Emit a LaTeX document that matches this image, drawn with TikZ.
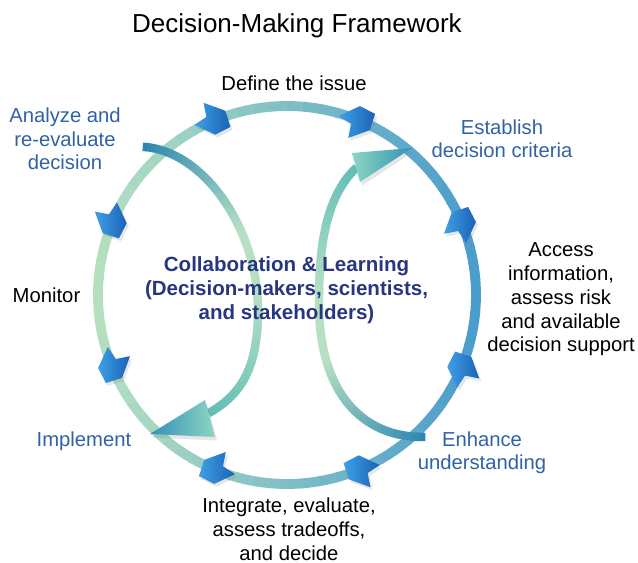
\documentclass[tikz,border=0pt]{standalone}
\usepackage{fontspec}
\setmainfont{Liberation Sans}
\usetikzlibrary{decorations.markings,shadows}

\definecolor{ringblue}{HTML}{4A9CCC}
\definecolor{ringgreen}{HTML}{B4E0C0}
\definecolor{tipdark}{HTML}{1A62B6}
\definecolor{tiplight}{HTML}{3FA0E6}
\definecolor{loopteal}{HTML}{2D86B0}
\definecolor{loopgreen}{HTML}{B6E0C4}
\definecolor{loopmint}{HTML}{62BEB8}
\definecolor{headtip}{HTML}{3490B8}
\definecolor{headbase}{HTML}{8CD6C2}
\definecolor{phaseblue}{HTML}{2F62A6}
\definecolor{hubnavy}{HTML}{28357F}

\tikzset{
  phase/.style={align=center,inner sep=0pt,anchor=base,font=\fontsize{14.4}{17}\selectfont},
  phaseb/.style={phase,text=phaseblue},
  loopline/.style={postaction={decorate},decoration={markings,
    mark=between positions 0 and 1 step 2.5pt with {
      \pgfmathsetmacro\loopt{\pgfkeysvalueof{/pgf/decoration/mark info/distance from start}/\pgfdecoratedpathlength}
      \pgfmathtruncatemacro\mixa{max(0,100*(1-\loopt/0.4))}
      \pgfmathtruncatemacro\mixb{100-max(0,100*(\loopt-0.6)/0.4)}
      \draw[line width=6pt,color=loopteal!\mixa!loopgreen!\mixb!loopmint] (-1.6pt,0) -- (1.6pt,0);
    }}},
  ringtip/.style={left color=tiplight,right color=tipdark,
    drop shadow={opacity=0.2,shadow xshift=1.5pt,shadow yshift=-2pt}},
  bighead/.style={drop shadow={opacity=0.2,shadow xshift=1.5pt,shadow yshift=-2.5pt}}
}

\begin{document}
\begin{tikzpicture}[x=0.025cm,y=-0.025cm]
  \useasboundingbox (0,0) rectangle (638,563);
  \coordinate (hub) at (287,295);

  \foreach \a in {0,5,...,355}{
    \pgfmathtruncatemacro\p{50+50*cos(\a+2.5)}
    \draw[line width=7pt,ringblue!\p!ringgreen] ([shift={(\a:189)}]hub) arc[start angle=\a,end angle=\a+5.5,radius=189];
  }

  \coordinate (loopAstart) at (145,147);
  \coordinate (loopAmid) at (258,310);
  \coordinate (loopAend) at (209,413);
  \coordinate (loopBstart) at (423,437);
  \coordinate (loopBmid) at (319,300);
  \coordinate (loopBend) at (356,168);

  \path[loopline] (loopAstart) .. controls (205,152) and (258,230) .. (loopAmid)
    .. controls (258,370) and (240,395) .. (loopAend);
  \path[loopline] (loopBstart) .. controls (360,437) and (318,390) .. (loopBmid)
    .. controls (319,240) and (328,195) .. (loopBend);

  \shade[bighead,left color=headtip,right color=headbase] (150,434) -- (205,400) -- (215,437) -- cycle;
  \shade[bighead,left color=headbase,right color=headtip] (412,148) -- (352,153) -- (360,182) -- cycle;

  \foreach \a in {22.5,67.5,...,337.5}
    \shade[ringtip,shift={(hub)},shift={(\a:189)},rotate=\a+90]
      (17,0) -- (6,13) -- (-17,12) -- (-9,0) -- (-17,-12) -- (6,-13) -- cycle;

  \node[phase,font=\fontsize{18.5}{22}\selectfont] (title) at (297,33) {Decision-Making Framework};
  \node[phase] (define) at (294,91) {Define the issue};
  \node[phaseb] (criteria) at (502,158) {Establish\\decision criteria};
  \node[phase] (access) at (561,352) {Access\\information,\\assess risk\\and available\\decision support};
  \node[phaseb] (enhance) at (482,470) {Enhance\\understanding};
  \node[phase] (integrate) at (289,560) {Integrate, evaluate,\\assess tradeoffs,\\and decide};
  \node[phaseb] (implement) at (84,447) {Implement};
  \node[phase] (monitor) at (46.5,303) {Monitor};
  \node[phaseb] (analyze) at (65,170) {Analyze and\\re-evaluate\\decision};
  \node[phase,text=hubnavy,font=\fontsize{14.6}{17.2}\selectfont\bfseries] (collab) at (286.5,320)
    {Collaboration \& Learning\\(Decision-makers, scientists,\\and stakeholders)};
\end{tikzpicture}
\end{document}
